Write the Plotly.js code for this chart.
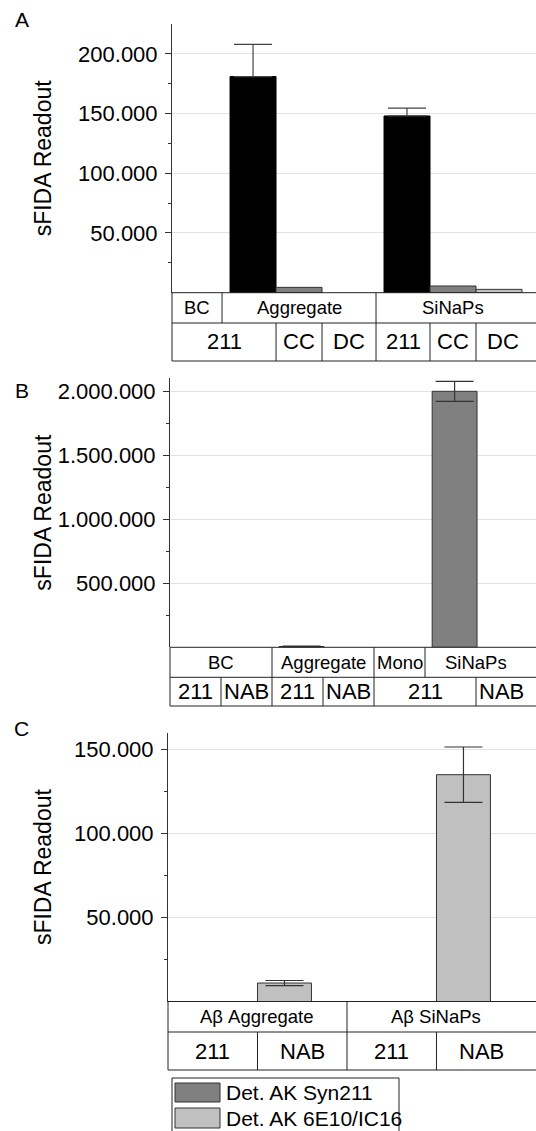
<!DOCTYPE html>
<html><head><meta charset="utf-8">
<script src="https://cdn.plot.ly/plotly-3.0.1.min.js"></script>
<style>html,body{margin:0;padding:0;background:#fff}#chart{width:536px;height:1131px}</style>
</head><body><div id="chart"></div>
<script>
// ---------- DATA ----------
// Panel A
const groupsA = ["BC", "Aggregate", "SiNaPs"];
const subLabelsA = ["211", "CC", "DC", "211", "CC", "DC"];
const syn211A = [null, 181000, 148000];
const syn211ErrA = [0, 27000, 6500];
const syn211ErrMinusA = [0, 0, 0];
const ccA = [null, 4500, 5600];
const dcA = [null, null, 2800];
const yTicksA = [50000, 100000, 150000, 200000];
const yMinorA = [25000, 75000, 125000, 175000];

// Panel B
const slotsB = ["BC 211", "BC NAB", "Aggregate 211", "Aggregate NAB", "Mono 211", "SiNaPs 211", "SiNaPs NAB"];
const groupsB = ["BC", "Aggregate", "Mono", "SiNaPs"];
const subLabelsB = ["211", "NAB", "211", "NAB", "211", "NAB"];
const syn211B = [null, null, 6000, null, null, 2000000, null];
const syn211ErrB = [0, 0, 4000, 0, 0, 78000, 0];
const yTicksB = [500000, 1000000, 1500000, 2000000];
const yMinorB = [250000, 750000, 1250000, 1750000];

// Panel C
const slotsC = ["Aβ Aggregate 211", "Aβ Aggregate NAB", "Aβ SiNaPs 211", "Aβ SiNaPs NAB"];
const groupsC = ["Aβ Aggregate", "Aβ SiNaPs"];
const subLabelsC = ["211", "NAB", "211", "NAB"];
const ab6e10C = [null, 11000, null, 135000];
const ab6e10ErrC = [0, 1500, 0, 16500];
const yTicksC = [50000, 100000, 150000];
const yMinorC = [25000, 75000, 125000];

const legendNames = ["Det. AK Syn211", "Det. AK 6E10/IC16"];
const panelLabels = ["A", "B", "C"];
const yTitle = "sFIDA Readout";

// ---------- LAYOUT GEOMETRY ----------
const W = 536, H = 1131;
const FONT = "Liberation Sans, Arial, sans-serif";
const C_BLACK = "#000000", C_DARK = "#808080", C_LIGHT = "#c0c0c0";
const C_LINE = "#222222", C_AXIS = "#333333", C_GRID = "#e2e2e2";
const wA = 0.2987;

const P = {
  A: {ax: 172, top: 24, zero: 292.7, r1: 323, r2: 361, xr: [0.175, 2.539], yr: [0, 225000],
      row1: [0.175, 0.5, 1.5, 2.5], row2: [0.175, 1 - wA/2, 1 + wA/2, 1.5, 2 - wA/2, 2 + wA/2, 2.5]},
  B: {ax: 170, top: 378, zero: 647.3, r1: 677.3, r2: 706, xr: [-0.5, 6.676], yr: [0, 2104000],
      row1: [-0.5, 1.5, 3.5, 4.5, 6.5], row2: [-0.5, 0.5, 1.5, 2.5, 3.5, 5.5, 6.5]},
  C: {ax: 168, top: 732.7, zero: 1001.5, r1: 1032, r2: 1070, xr: [-0.5, 3.612], yr: [0, 160000],
      row1: [-0.5, 1.5, 3.5], row2: [-0.5, 0.5, 1.5, 2.5, 3.5]}
};
const yp = px => 1 - px / H;
function xpx(p, x) { return p.ax + (x - p.xr[0]) / (p.xr[1] - p.xr[0]) * (W - p.ax); }

// ---------- TRACES ----------
const errStyle = {type: "data", color: "#333333", thickness: 1.2, width: 19};
const traces = [
  {type: "bar", name: "211", x: groupsA, y: syn211A, xaxis: "x", yaxis: "y", width: wA, offset: -1.5 * wA,
   marker: {color: C_BLACK, line: {color: C_BLACK, width: 1}},
   error_y: Object.assign({array: syn211ErrA, symmetric: false, arrayminus: syn211ErrMinusA}, errStyle, {color: "#444444"}), showlegend: false},
  {type: "bar", name: "CC", x: groupsA, y: ccA, xaxis: "x", yaxis: "y", width: wA, offset: -0.5 * wA,
   marker: {color: C_DARK, line: {color: C_AXIS, width: 1}}, showlegend: false},
  {type: "bar", name: "DC", x: groupsA, y: dcA, xaxis: "x", yaxis: "y", width: wA, offset: 0.5 * wA,
   marker: {color: C_LIGHT, line: {color: C_AXIS, width: 1}}, showlegend: false},
  {type: "bar", name: legendNames[0], x: slotsB, y: syn211B, xaxis: "x2", yaxis: "y2", width: 0.88, offset: -0.36,
   marker: {color: C_DARK, line: {color: C_AXIS, width: 1}}, error_y: Object.assign({array: syn211ErrB}, errStyle), showlegend: false},
  {type: "bar", name: legendNames[1], x: slotsC, y: ab6e10C, xaxis: "x3", yaxis: "y3", width: 0.603, offset: -0.5,
   marker: {color: C_LIGHT, line: {color: C_AXIS, width: 1}}, error_y: Object.assign({array: ab6e10ErrC}, errStyle), showlegend: false}
];

// ---------- AXES ----------
function xAxis(p, cats, anchor) {
  return {domain: [p.ax / W, 1], range: p.xr, type: "category", categoryorder: "array", categoryarray: cats,
          showticklabels: false, showgrid: false, zeroline: false, showline: false, ticks: "", anchor: anchor, fixedrange: true};
}
function yAxis(p, tv, mv, anchor) {
  return {domain: [yp(p.zero), yp(p.top)], range: p.yr, anchor: anchor, tickmode: "array", tickvals: tv,
          tickformat: ",d", ticks: "outside", ticklen: 6, tickwidth: 1, tickcolor: C_AXIS,
          showline: true, linecolor: C_AXIS, linewidth: 1, showgrid: true, gridcolor: C_GRID, gridwidth: 1,
          zeroline: false, tickfont: {family: FONT, size: 22, color: "#000"}, ticklabelstandoff: 3,
          minor: {tickmode: "array", tickvals: mv, ticks: "outside", ticklen: 3.5, tickcolor: C_AXIS, showgrid: false},
          fixedrange: true};
}

// ---------- TABLES ----------
const shapes = [];
const annotations = [];
function line(x0, y0, x1, y1) {
  shapes.push({type: "line", xref: "paper", yref: "paper", x0: x0 / W, x1: x1 / W, y0: yp(y0), y1: yp(y1),
               line: {color: C_LINE, width: 1}});
}
function txt(xPx, yPx, text, size, anchor) {
  annotations.push({xref: "paper", yref: "paper", x: xPx / W, y: yp(yPx), text: text, showarrow: false,
                    xanchor: anchor || "center", yanchor: "middle", font: {family: FONT, size: size, color: "#000"}});
}
function table(p, top, bottom) {
  [p.zero, p.r1, p.r2].forEach(y => line(p.ax, y, W, y));
  line(p.ax, p.zero, p.ax, p.r2);
  for (let i = 1; i < p.row1.length - 1; i++) line(xpx(p, p.row1[i]), p.zero, xpx(p, p.row1[i]), p.r1);
  for (let i = 1; i < p.row2.length - 1; i++) line(xpx(p, p.row2[i]), p.r1, xpx(p, p.row2[i]), p.r2);
  top.forEach((t, i) => txt((xpx(p, p.row1[i]) + xpx(p, p.row1[i + 1])) / 2, (p.zero + p.r1) / 2, t, 18.5));
  bottom.forEach((t, i) => txt((xpx(p, p.row2[i]) + xpx(p, p.row2[i + 1])) / 2, (p.r1 + p.r2) / 2, t, 22));
}
table(P.A, groupsA, subLabelsA);
table(P.B, groupsB, subLabelsB);
table(P.C, groupsC, subLabelsC);

// y titles and panel letters
[P.A, P.B, P.C].forEach((p, i) => {
  annotations.push({xref: "paper", yref: "paper", x: 43 / W, y: yp((p.top + p.zero) / 2), text: yTitle, textangle: -90,
                    showarrow: false, xanchor: "center", yanchor: "middle", font: {family: FONT, size: 23, color: "#000"}});
});
[[21.5, 20], [21.5, 390], [21, 728]].forEach((pos, i) => txt(pos[0], pos[1], panelLabels[i], 21));

// legend (manual box)
shapes.push({type: "rect", xref: "paper", yref: "paper", x0: 172 / W, x1: 399 / W, y0: yp(1078), y1: yp(1140),
             line: {color: C_LINE, width: 1}, fillcolor: "rgba(0,0,0,0)"});
[[1083, 1102, C_DARK], [1108, 1128, C_LIGHT]].forEach((s, i) => {
  shapes.push({type: "rect", xref: "paper", yref: "paper", x0: 175 / W, x1: 220 / W, y0: yp(s[1]), y1: yp(s[0]),
               line: {color: C_AXIS, width: 1}, fillcolor: s[2]});
  txt(224, (s[0] + s[1]) / 2, legendNames[i], 21, "left");
});

const layout = {
  width: W, height: H, margin: {l: 0, r: 0, t: 0, b: 0}, paper_bgcolor: "#fff", plot_bgcolor: "#fff",
  separators: ",.", barmode: "overlay", showlegend: false, font: {family: FONT, color: "#000"},
  xaxis: xAxis(P.A, groupsA, "y"), yaxis: yAxis(P.A, yTicksA, yMinorA, "x"),
  xaxis2: xAxis(P.B, slotsB, "y2"), yaxis2: yAxis(P.B, yTicksB, yMinorB, "x2"),
  xaxis3: xAxis(P.C, slotsC, "y3"), yaxis3: yAxis(P.C, yTicksC, yMinorC, "x3"),
  shapes: shapes, annotations: annotations
};
Plotly.newPlot("chart", traces, layout, {staticPlot: true, displayModeBar: false});
</script></body></html>
